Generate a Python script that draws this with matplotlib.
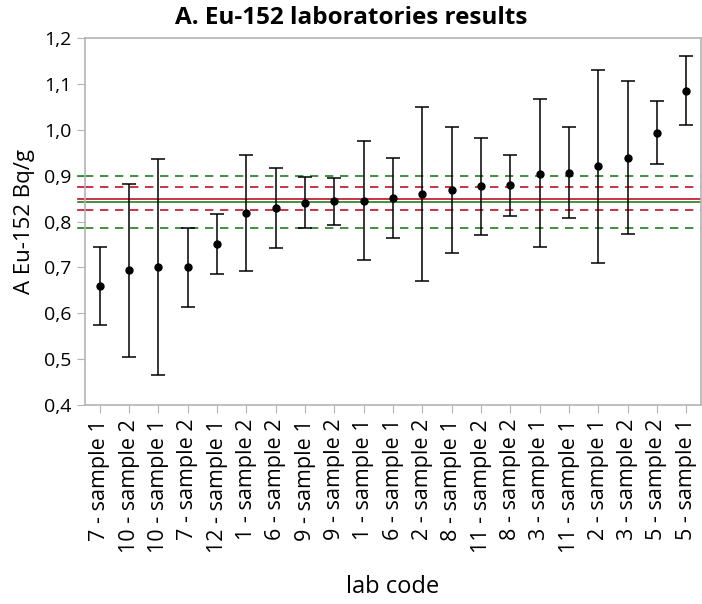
import numpy as np
import matplotlib.pyplot as plt
import matplotlib.transforms as mtransforms
from matplotlib.ticker import FuncFormatter

plt.rcParams["font.family"] = ["Open Sans", "DejaVu Sans"]

# lab results sorted by value
labels = ["7 - sample 1", "10 - sample 2", "10 - sample 1", "7 - sample 2",
          "12 - sample 1", "1 - sample 2", "6 - sample 2", "9 - sample 1",
          "9 - sample 2", "1 - sample 1", "6 - sample 1", "2 - sample 2",
          "8 - sample 1", "11 - sample 2", "8 - sample 2", "3 - sample 1",
          "11 - sample 1", "2 - sample 1", "3 - sample 2", "5 - sample 2",
          "5 - sample 1"]
values = [0.660, 0.694, 0.700, 0.700, 0.752, 0.819, 0.829, 0.841, 0.844,
          0.845, 0.851, 0.860, 0.869, 0.877, 0.880, 0.904, 0.906, 0.920,
          0.939, 0.994, 1.084]
upper = [0.745, 0.882, 0.936, 0.785, 0.817, 0.945, 0.916, 0.896, 0.895,
         0.975, 0.939, 1.050, 1.007, 0.983, 0.946, 1.066, 1.005, 1.130,
         1.106, 1.063, 1.160]
lower = [0.574, 0.505, 0.465, 0.614, 0.686, 0.693, 0.743, 0.785, 0.792,
         0.715, 0.763, 0.670, 0.732, 0.771, 0.813, 0.744, 0.808, 0.710,
         0.773, 0.926, 1.010]

# reference value and its bands
ref_red = 0.850
ref_red_band = [0.825, 0.875]
ref_green = 0.843
ref_green_band = [0.786, 0.900]

red = "#c0102a"
green = "#1f7f1f"
frame = "#b4b4b4"

values = np.array(values)
x = np.arange(len(values))
yerr = [values - np.array(lower), np.array(upper) - values]

fig = plt.figure(figsize=(7.02, 6.04), dpi=100)
ax = fig.add_axes([85 / 702, 1 - 405 / 604, 616 / 702, 367 / 604])

ax.axhline(ref_red, color=red, lw=1.2, zorder=1)
ax.axhline(ref_green, color=green, lw=1.2, zorder=1)
for v in ref_red_band:
    ax.axhline(v, color=red, lw=1.2, ls=(0, (5, 4)), zorder=1)
for v in ref_green_band:
    ax.axhline(v, color=green, lw=1.2, ls=(0, (5, 4)), zorder=1)

ax.errorbar(x, values, yerr=yerr, fmt="o", color="black", ms=5,
            elinewidth=1.1, capsize=5, capthick=1.1, zorder=3)

# short coloured marks on the y axis for the reference lines
trans = mtransforms.blended_transform_factory(ax.transAxes, ax.transData)
for v, c in [(ref_green_band[1], green), (ref_red_band[1], red), (ref_red, red),
             (ref_green, green), (ref_red_band[0], red), (ref_green_band[0], green)]:
    ax.plot([-0.011, 0], [v, v], color=c, lw=1.2, transform=trans, clip_on=False)

ax.set_xlim(-0.5, len(values) - 0.5)
ax.set_ylim(0.4, 1.2)
ax.set_yticks(np.arange(0.4, 1.21, 0.1))
ax.yaxis.set_major_formatter(FuncFormatter(lambda v, p: f"{v:.1f}".replace(".", ",")))
ax.set_xticks(x)
ax.set_xticklabels(labels, rotation=90, fontsize=15.5)
ax.tick_params(axis="y", labelsize=14, length=6, color=frame, pad=4)
ax.tick_params(axis="x", length=6, color=frame, pad=4)
for s in ax.spines.values():
    s.set_color(frame)
    s.set_linewidth(1.2)

fig.suptitle("A. Eu-152 laboratories results", fontsize=17.5, fontweight="bold",
             x=0.5, y=0.99)
ax.set_ylabel("A Eu-152 Bq/g", fontsize=16, labelpad=6)
ax.set_xlabel("lab code", fontsize=17, labelpad=16)

fig.savefig("out.png", dpi=100)
